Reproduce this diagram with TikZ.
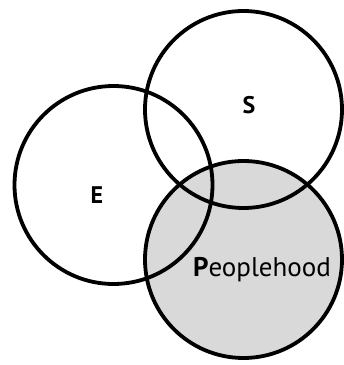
\documentclass[tikz,border=0pt]{standalone}
\usepackage{fontspec}
\setmainfont{PT Sans}
\begin{document}
\begin{tikzpicture}[x=1pt,y=1pt,
  ring/.style={draw=black,line width=3.8pt},
  lbl/.style={font=\fontsize{24}{28}\selectfont\bfseries,inner sep=0pt}]
\useasboundingbox (0,0) rectangle (344,365);
\coordinate (ce) at (113.5,180);
\coordinate (cs) at (243.5,255.5);
\coordinate (cp) at (243.5,105.5);
\fill[gray!30] (cp) circle (98.5);
\draw[ring] (ce) circle (99);
\draw[ring] (cs) circle (98.5);
\draw[ring] (cp) circle (98.5);
\node[lbl] (e) at (97,170) {E};
\node[lbl] (s) at (249,260) {S};
\node[inner sep=0pt,font=\fontsize{27}{31}\selectfont] (p) at (262,95) {\textbf{P}eoplehood};
\end{tikzpicture}
\end{document}
